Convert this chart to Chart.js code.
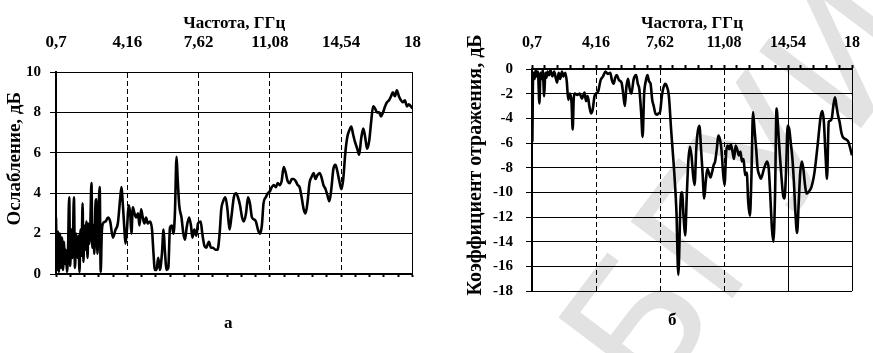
<!DOCTYPE html>
<html><head><meta charset="utf-8">
<script src="https://cdn.jsdelivr.net/npm/chart.js@4.4.1/dist/chart.umd.min.js"></script>
<style>
html,body{margin:0;padding:0;background:#fff;width:873px;height:353px;overflow:hidden}
#wrap{position:relative;width:873px;height:353px}
canvas{position:absolute;top:0}
#c1{left:0;width:440px;height:353px}
#c2{left:440px;width:433px;height:353px}
.cap{position:absolute;font:bold 17px 'Liberation Serif','Times New Roman',serif;color:#000}
</style></head><body>
<div id="wrap">
<canvas id="c1" width="440" height="353"></canvas>
<canvas id="c2" width="433" height="353"></canvas>
<div class="cap" style="left:224px;top:313px">а</div>
<div class="cap" style="left:668px;top:310px">б</div>
</div>
<script>
// ---- data ----
const freqTicks = [0.7, 4.16, 7.62, 11.08, 14.54, 18];
const freqTickLabels = ['0,7', '4,16', '7,62', '11,08', '14,54', '18'];
const leftYTicks = [0, 2, 4, 6, 8, 10];
const rightYTicks = [0, -2, -4, -6, -8, -10, -12, -14, -16, -18];

// (а) attenuation, dB
const attFreq = [
0.70,0.75,0.80,0.84,0.89,0.94,0.99,1.04,1.09,1.13,
1.18,1.23,1.28,1.34,1.39,1.44,1.50,1.57,1.62,1.68,
1.74,1.79,1.84,1.89,1.94,1.99,2.03,2.08,2.13,2.18,
2.23,2.27,2.32,2.37,2.42,2.47,2.52,2.56,2.61,2.66,
2.71,2.76,2.82,2.87,2.92,2.98,3.11,3.22,3.33,3.46,
3.59,3.70,3.82,3.88,3.94,4.02,4.07,4.15,4.22,4.30,
4.36,4.43,4.51,4.59,4.68,4.75,4.83,4.91,4.99,5.07,
5.15,5.26,5.36,5.42,5.50,5.58,5.66,5.74,5.84,5.92,
5.98,6.07,6.15,6.23,6.32,6.40,6.47,6.55,6.60,6.68,
6.79,6.88,6.96,7.04,7.16,7.25,7.32,7.41,7.51,7.59,
7.72,7.80,7.90,7.99,8.12,8.22,8.31,8.44,8.54,8.64,
8.72,8.81,8.92,9.02,9.12,9.21,9.33,9.44,9.53,9.63,
9.73,9.82,9.92,10.02,10.11,10.21,10.31,10.40,10.50,10.59,
10.69,10.77,10.88,10.98,11.08,11.17,11.27,11.37,11.46,11.56,
11.65,11.75,11.85,11.94,12.04,12.14,12.23,12.33,12.43,12.52,
12.62,12.72,12.81,12.91,13.00,13.10,13.20,13.29,13.39,13.49,
13.58,13.68,13.78,13.87,13.97,14.06,14.16,14.26,14.35,14.45,
14.55,14.64,14.74,14.84,14.93,15.03,15.12,15.22,15.32,15.41,
15.51,15.61,15.70,15.80,15.90,15.99,16.09,16.18,16.28,16.38,
16.47,16.57,16.67,16.76,16.86,16.96,17.05,17.15,17.24,17.34,
17.44,17.53,17.63,17.73,17.82,17.92,18.00];
const attValues = [
2.8,0.2,2.1,0.1,2.0,0.3,1.8,0.2,1.6,0.5,
1.2,0.1,1.0,3.8,0.4,2.2,0.8,3.8,0.3,2.0,
0.8,1.9,0.1,2.2,0.9,3.5,0.6,2.4,1.2,2.6,
0.8,2.5,1.5,2.6,4.5,1.3,2.4,1.0,3.3,3.7,
1.0,2.8,4.3,0.1,2.0,2.5,2.6,2.8,2.6,1.8,
2.2,2.5,3.8,4.3,3.5,2.2,1.5,2.3,3.4,3.0,
2.0,3.3,3.0,2.8,3.0,2.4,3.2,2.8,2.5,2.8,
2.5,2.6,2.2,1.2,0.2,0.2,0.8,0.2,1.0,2.2,
1.2,0.2,0.3,2.3,2.4,2.0,3.0,5.8,4.8,3.4,
2.8,2.0,1.7,2.3,2.8,2.4,1.8,2.2,1.9,2.5,
2.6,2.0,1.4,1.3,1.6,1.3,1.3,1.2,1.2,2.0,
3.2,3.6,3.8,3.2,2.2,2.8,3.8,4.0,3.8,3.4,
2.8,2.6,3.0,3.8,3.5,2.8,2.7,2.6,2.2,2.0,
2.4,3.5,3.8,4.0,4.1,4.3,4.4,4.3,4.5,4.4,
4.6,5.3,5.0,4.6,4.5,4.7,4.7,4.6,4.4,4.3,
3.8,3.2,3.0,3.6,4.5,4.8,5.0,4.7,4.9,5.0,
4.8,4.4,4.2,3.9,3.6,4.2,5.2,5.4,5.1,4.6,
4.2,4.7,6.0,6.8,7.1,7.3,6.9,6.5,6.2,5.9,
6.7,7.2,6.8,6.2,6.6,7.5,8.3,8.2,8.0,8.0,
7.8,8.0,8.3,8.5,8.6,8.8,9.0,8.8,9.1,8.8,
8.6,8.5,8.6,8.3,8.4,8.3,8.2];

// (б) reflection coefficient, dB
const reflFreq = [
0.70,0.72,0.75,0.80,0.84,0.90,0.96,1.02,1.10,1.16,
1.22,1.28,1.36,1.42,1.48,1.54,1.62,1.70,1.80,1.90,
1.98,2.06,2.14,2.22,2.32,2.40,2.50,2.58,2.66,2.76,
2.84,2.90,2.96,3.02,3.15,3.28,3.40,3.54,3.62,3.71,
3.80,3.89,3.98,4.08,4.15,4.28,4.41,4.54,4.67,4.80,
4.93,5.02,5.11,5.20,5.28,5.40,5.54,5.63,5.72,5.80,
5.89,5.98,6.07,6.20,6.33,6.42,6.50,6.60,6.68,6.76,
6.85,6.94,7.03,7.11,7.20,7.28,7.37,7.46,7.55,7.62,
7.72,7.79,7.90,7.96,8.10,8.22,8.39,8.51,8.61,8.73,
8.81,8.90,8.98,9.07,9.15,9.24,9.32,9.41,9.49,9.58,
9.66,9.75,9.84,9.92,10.01,10.09,10.18,10.26,10.35,10.43,
10.52,10.60,10.69,10.77,10.86,10.94,11.03,11.11,11.20,11.28,
11.37,11.45,11.54,11.62,11.71,11.79,11.88,11.97,12.05,12.14,
12.22,12.31,12.39,12.48,12.56,12.65,12.73,12.82,12.90,12.99,
13.07,13.24,13.41,13.50,13.58,13.67,13.75,13.84,13.92,14.01,
14.10,14.18,14.27,14.35,14.44,14.52,14.61,14.69,14.78,14.86,
14.95,15.03,15.12,15.20,15.29,15.37,15.46,15.54,15.63,15.80,
15.97,16.14,16.31,16.40,16.48,16.57,16.65,16.74,16.82,16.91,
16.99,17.08,17.16,17.25,17.33,17.42,17.50,17.67,17.80,18.00];
const reflValues = [
-0.2,-5.8,-1.0,-0.3,-0.8,-0.1,-0.6,-0.2,-2.8,-0.3,
-0.8,-0.1,-2.2,-0.3,-0.7,-0.2,-0.5,-0.1,-0.6,-0.2,
-0.7,-1.1,-0.3,-0.8,-0.2,-0.6,-0.3,-1.0,-2.5,-2.0,
-2.8,-4.9,-2.3,-2.0,-2.1,-2.0,-2.4,-1.9,-2.6,-2.2,
-3.0,-3.6,-3.3,-2.2,-2.0,-1.8,-0.9,-0.6,-0.2,-0.4,
-0.3,-0.9,-1.2,-0.7,-0.5,-0.9,-1.1,-2.0,-3.0,-1.5,
-0.8,-1.6,-2.0,-0.8,-0.5,-1.2,-1.6,-3.5,-5.5,-2.1,
-1.0,-0.5,-1.0,-1.2,-2.5,-3.0,-3.6,-3.7,-3.6,-3.5,
-2.2,-1.6,-1.2,-1.3,-2.2,-4.9,-8.4,-11.6,-16.7,-10.8,
-10.0,-12.1,-13.5,-10.2,-7.5,-6.3,-7.0,-8.6,-9.4,-6.5,
-5.1,-4.6,-6.5,-8.4,-10.5,-9.2,-8.1,-8.4,-8.8,-8.4,
-7.8,-7.5,-6.5,-5.4,-5.7,-6.5,-8.4,-9.4,-6.7,-6.2,
-6.5,-6.1,-6.7,-7.3,-6.2,-6.5,-7.0,-6.7,-7.5,-7.3,
-8.6,-8.4,-10.8,-11.9,-8.9,-3.5,-4.9,-6.5,-8.1,-8.6,
-8.9,-8.1,-7.5,-8.1,-10.2,-12.9,-14.0,-10.2,-3.2,-4.9,
-7.0,-8.6,-10.2,-10.5,-8.1,-4.6,-4.9,-6.0,-7.3,-9.2,
-11.9,-13.3,-10.8,-8.4,-7.5,-8.1,-9.4,-10.1,-10.0,-9.6,
-8.4,-6.2,-3.8,-3.4,-4.3,-7.0,-8.9,-4.3,-4.2,-4.0,
-3.0,-2.3,-3.0,-3.8,-4.3,-5.1,-5.5,-5.7,-5.9,-7.0];

// ---- helpers ----
const FONT = "'Liberation Serif','Times New Roman',serif";
const BLACK = '#000';
function minorTicks(majors) {
  const out = [];
  for (let i = 0; i < majors.length - 1; i++)
    for (let k = 0; k < 5; k++) out.push(majors[i] + (majors[i + 1] - majors[i]) * k / 5);
  out.push(majors[majors.length - 1]);
  return out;
}
const minorFreq = minorTicks(freqTicks);
function pts(xs, ys) { return xs.map((x, i) => ({ x: x, y: ys[i] })); }
function fnt(size) { return { family: FONT, size: size, weight: 'bold' }; }
const SP = '\u0020\u0020\u0020\u0020\u0020\u0020';

const common = {
  responsive: false, animation: false, devicePixelRatio: 1,
  plugins: { legend: { display: false }, tooltip: { enabled: false } },
  elements: { point: { radius: 0 } }
};

// ---- chart а ----
new Chart(document.getElementById('c1'), {
  type: 'line',
  data: { datasets: [{ data: pts(attFreq, attValues), borderColor: BLACK, borderWidth: 2.6,
    pointRadius: 0, cubicInterpolationMode: 'monotone', xAxisID: 'x', yAxisID: 'y' }] },
  options: Object.assign({}, common, {
    layout: { padding: { left: 0, right: 25, top: 0, bottom: 79 } },
    scales: {
      x: {
        type: 'linear', position: 'top', min: 0.7, max: 18,
        afterBuildTicks: s => { s.ticks = freqTicks.map(v => ({ value: v })); },
        afterFit: s => { s.height = 72; },
        ticks: { autoSkip: false, maxRotation: 0, color: BLACK, font: fnt(17), padding: 19,
          callback: (v, i) => freqTickLabels[i] },
        grid: { color: BLACK, lineWidth: 1, drawTicks: false },
        border: { display: true, color: BLACK, width: 1,
          dash: ctx => (ctx.type === 'tick' && ctx.index > 0 && ctx.index < freqTicks.length - 1) ? [5, 3] : [] },
        title: { display: true, text: 'Частота, ГГц', color: BLACK, font: fnt(17), padding: { top: 13, bottom: 0 } }
      },
      x2: {
        type: 'linear', position: 'bottom', min: 0.7, max: 18,
        afterBuildTicks: s => { s.ticks = minorFreq.map(v => ({ value: v })); },
        afterFit: s => { s.height = 0; },
        ticks: { display: false },
        grid: { drawOnChartArea: false, drawTicks: true, tickLength: 3, tickWidth: 2, color: BLACK },
        border: { display: true, color: BLACK, width: 2 }
      },
      y: {
        min: 0, max: 10,
        afterBuildTicks: s => { s.ticks = leftYTicks.map(v => ({ value: v })); },
        afterFit: s => { s.width = 56; },
        ticks: { color: BLACK, font: fnt(15), padding: 9 },
        grid: { color: BLACK, lineWidth: 1, tickLength: 6 },
        border: { display: true, color: BLACK, width: 2 },
        title: { display: true, text: SP + 'Ослабление, дБ', color: BLACK, font: fnt(19), padding: { top: 4, bottom: 0 } }
      }
    }
  })
});

// ---- chart б ----
const watermark = {
  id: 'wm',
  beforeDraw(chart) {
    const c = chart.ctx;
    c.save();
    c.textAlign = 'left';
    c.textBaseline = 'alphabetic';
    c.translate(210, 408);
    c.rotate(-53 * Math.PI / 180);
    c.fillStyle = '#e2e2e2';
    c.font = "175px 'DejaVu Sans'";
    c.fillText('БГУИР', 0, 0);
    c.restore();
  }
};
new Chart(document.getElementById('c2'), {
  type: 'line',
  data: { datasets: [{ data: pts(reflFreq, reflValues), borderColor: BLACK, borderWidth: 2.6,
    pointRadius: 0, cubicInterpolationMode: 'monotone' }] },
  plugins: [watermark],
  options: Object.assign({}, common, {
    layout: { padding: { left: 0, right: 10, top: 0, bottom: 62 } },
    scales: {
      x: {
        type: 'linear', position: 'top', min: 0.7, max: 18,
        afterBuildTicks: s => { s.ticks = minorFreq.map(v => ({ value: v })); },
        afterFit: s => { s.height = 69; },
        ticks: { autoSkip: false, maxRotation: 0, color: BLACK, font: fnt(16), padding: 13,
          callback: (v, i) => (i % 5 === 0 ? freqTickLabels[i / 5] : '') },
        grid: { color: ctx => (ctx.index % 5 === 0 ? BLACK : 'rgba(0,0,0,0)'), tickColor: BLACK,
          lineWidth: 1, tickLength: 4, tickWidth: 2 },
        border: { display: true, color: BLACK, width: 2,
          dash: ctx => (ctx.type === 'tick' && ctx.index > 0 && ctx.index !== 20 && ctx.index !== 25) ? [5, 3] : [] },
        title: { display: true, text: 'Частота, ГГц', color: BLACK, font: fnt(17), padding: { top: 13, bottom: 0 } }
      },
      y: {
        min: -18, max: 0,
        afterBuildTicks: s => { s.ticks = rightYTicks.map(v => ({ value: v })); },
        afterFit: s => { s.width = 92; },
        ticks: { color: BLACK, font: fnt(15), padding: 13 },
        grid: { color: BLACK, lineWidth: 1, tickLength: 6 },
        border: { display: true, color: BLACK, width: 2 },
        title: { display: true, text: SP + 'Коэффициент отражения, дБ', color: BLACK, font: fnt(20), padding: { top: 24, bottom: 0 } }
      }
    }
  })
});
</script>
</body></html>
